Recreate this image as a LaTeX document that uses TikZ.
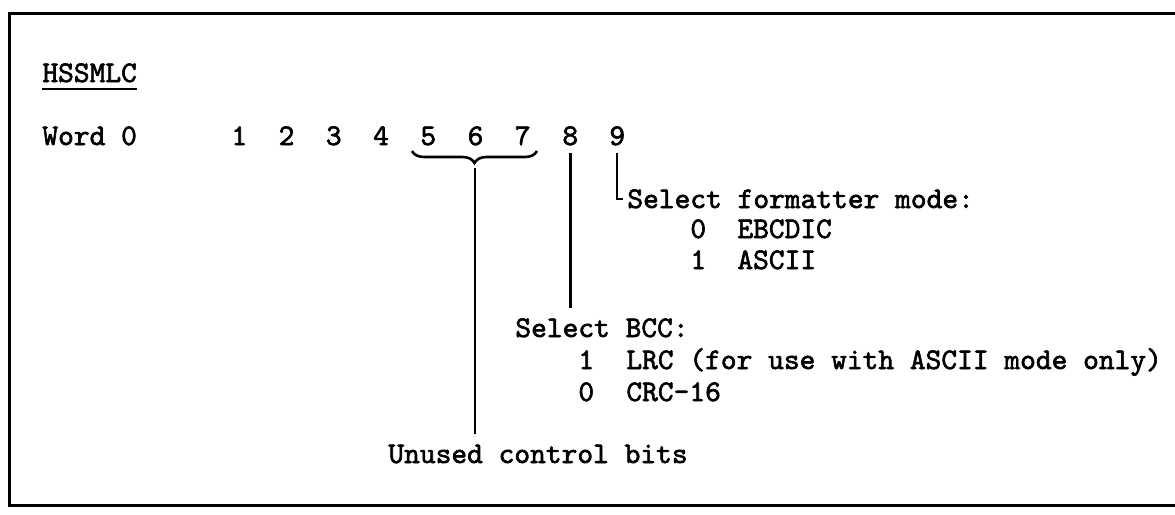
\documentclass[tikz,border=0pt]{standalone}
\usepackage{fontspec}
\newfontfamily\tw[FakeBold=2]{lmmono10-regular.otf}
\usetikzlibrary{decorations.pathreplacing}
\begin{document}
\begin{tikzpicture}[x=0.5pt,y=-0.5pt,
  txt/.style={anchor=base west, inner sep=0pt, font=\tw\fontsize{15}{15}\selectfont},
  lead/.style={line width=1.3pt},
  frame/.style={line width=1.5pt}]
\useasboundingbox (0,0) rectangle (1175,515);
\draw[frame] (1175,13) -- (9,13) -- (9,505) -- (1175,505);
% title
\node[txt] (title) at (42,82) {HSSMLC};
\draw[line width=1.1pt] (title.south west) ++(0,6) coordinate (ul1) -- (ul1 -| title.south east);
% word row
\node[txt] (word) at (42,145) {Word 0};
\node[txt] (d1) at (231,145) {1};
\node[txt] (d2) at (278.25,145) {2};
\node[txt] (d3) at (325.5,145) {3};
\node[txt] (d4) at (372.75,145) {4};
\node[txt] (d5) at (420,145) {5};
\node[txt] (d6) at (467.25,145) {6};
\node[txt] (d7) at (514.5,145) {7};
\node[txt] (d8) at (562,145) {8};
\node[txt] (d9) at (609,145) {9};
% brace over 5 6 7
\coordinate (bl) at (412,151);
\coordinate (br) at (537,151);
\draw[line width=1.3pt, decorate, decoration={brace, mirror, amplitude=6pt}] (bl) -- (br);
\coordinate (tip) at (475,168);
% formatter mode
\node[txt] (fmt) at (627,208) {Select formatter mode:};
\node[txt] (f0) at (690,238) {0};
\node[txt] (f0t) at (737,238) {EBCDIC};
\node[txt] (f1) at (690,269) {1};
\node[txt] (f1t) at (737,269) {ASCII};
% BCC
\node[txt] (bcc) at (515,337) {Select BCC:};
\node[txt] (b1) at (578,369) {1};
\node[txt] (b1t) at (626,369) {LRC (for use with ASCII mode only)};
\node[txt] (b0) at (578,401) {0};
\node[txt] (b0t) at (626,401) {CRC-16};
% unused
\node[txt] (unused) at (388,463) {Unused control bits};
% leaders
\coordinate (e8) at ([yshift=5pt]bcc.north -| d8.south);
\draw[lead] ([yshift=-3.5pt]d8.south) -- (e8);
\coordinate (e6) at ([yshift=5pt]unused.north -| tip);
\draw[lead] (tip) -- (e6);
\coordinate (e9) at ([xshift=-2pt]fmt.west);
\draw[line width=1.1pt] ([yshift=-3.5pt]d9.south) |- (e9);
\end{tikzpicture}
\end{document}
